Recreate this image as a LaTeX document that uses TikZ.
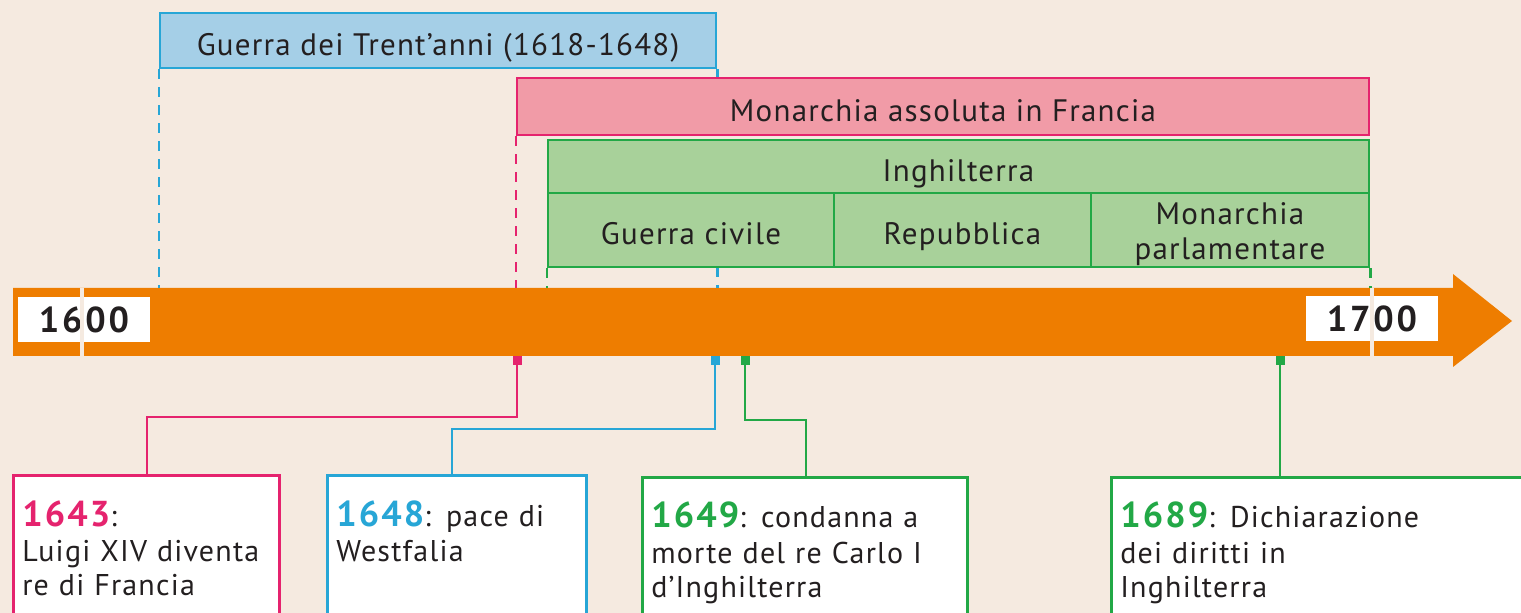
\documentclass[tikz,border=0pt]{standalone}
\usepackage{fontspec}
\setmainfont{PT Sans}
\usetikzlibrary{fit}
\definecolor{bgc}{RGB}{245,234,224}
\definecolor{barc}{RGB}{238,125,0}
\definecolor{txt}{RGB}{35,31,32}
\definecolor{blufill}{RGB}{165,207,231}
\definecolor{bluline}{RGB}{39,166,214}
\definecolor{pnkfill}{RGB}{241,155,167}
\definecolor{pnkline}{RGB}{229,35,110}
\definecolor{grnfill}{RGB}{168,209,154}
\definecolor{grnline}{RGB}{34,168,70}
\newcommand\yr[2]{\textcolor{#1}{\fontsize{18}{17.5}\selectfont\bfseries\addfontfeature{LetterSpace=6}#2}}
\tikzset{
span/.style={draw=#1line,fill=#1fill,line width=1.3pt,inner sep=0pt},
lbl/.style={inner sep=0pt,anchor=base,yshift=-7.5pt,align=center,text=txt,font=\fontsize{15.5}{17.5}\selectfont\addfontfeature{LetterSpace=4}},
limit/.style={draw=#1,line width=1.2pt,dash pattern=on 5pt off 4pt},
evbox/.style={draw=#1,fill=white,line width=1.3pt,anchor=north west,align=left,inner xsep=4.5pt,inner ysep=12.5pt,text depth=100pt,text=txt,font=\fontsize{15}{17.5}\selectfont\addfontfeature{LetterSpace=4}},
evmark/.style={fill=#1,inner sep=0pt,minimum size=4.5pt},
link/.style={draw=#1,line width=1.2pt},
yrlbl/.style={fill=white,inner sep=0pt,minimum width=66pt,minimum height=22.5pt,text=txt,font=\fontsize{18}{18}\selectfont\bfseries\addfontfeature{LetterSpace=8}}
}
\begin{document}
\begin{tikzpicture}[x=0.5pt,y=-0.5pt]
\useasboundingbox(0,0)rectangle(1521,613);\clip(0,0)rectangle(1521,613);
\fill[bgc](0,0)rectangle(1521,613);
% the time arrow
\fill[barc](13,288)--(1453,288)--(1453,274)--(1512,321)--(1453,367)--(1453,356)--(13,356)--cycle;
\coordinate(bartop)at(0,288);
\node[yrlbl](y1600)at(84,320){1600};\node[yrlbl](y1700)at(1372,319){1700};
\foreach\x in{82,1372}{\fill[bgc](\x-2,288)rectangle(\x+2,356);}
% periods
\node[span=blu,fit={(160,13)(716,68)}](thirty){};\node[lbl](thirtyt)at(thirty){Guerra dei Trent’anni (1618-1648)};
\draw[limit=bluline](thirty.south west)--(thirty.south west|-bartop);\draw[limit=bluline](thirty.south east)--(thirty.south east|-bartop);
\node[span=pnk,fit={(517,78)(1369,135)}](france){};\node[lbl](francet)at(france){Monarchia assoluta in Francia};
\draw[limit=pnkline](france.south west)--(france.south west|-bartop);
\node[span=grn,fit={(548,140)(1369,193)}](eng){};\node[lbl](engt)at(eng){Inghilterra};
\foreach\a/\b/\n in{548/834/civil,834/1091/rep,1091/1369/parl}{\node[span=grn,fit={(\a,193)(\b,267)}](\n){};}
\node[lbl](civilt)at(civil){Guerra civile};\node[lbl](rept)at(rep){Repubblica};
\node[lbl,anchor=center,yshift=5.5pt](parlt)at(parl){Monarchia\\parlamentare};
\draw[limit=grnline](civil.south west)--(civil.south west|-bartop);\draw[limit=grnline](parl.south east)--(parl.south east|-bartop);
% events
\foreach\x/\c/\n in{517/pnkline/mk1643,715/bluline/mk1648,745/grnline/mk1649,1280/grnline/mk1689}{\node[evmark=\c](\n)at(\x,360.5){};}
\node[evbox=pnkline,text width=124pt](e1643)at(12,474){\yr{pnkline}{1643}:\\Luigi XIV diventa\\re di Francia};
\node[evbox=bluline,text width=120.5pt](e1648)at(326,474){\yr{bluline}{1648}: pace di\\Westfalia};
\node[evbox=grnline,text width=153.5pt](e1649)at(641,476){\yr{grnline}{1649}: condanna a\\morte del re Carlo I\\d’Inghilterra};
\node[evbox=grnline,text width=208pt](e1689)at(1110,476){\yr{grnline}{1689}: Dichiarazione\\dei diritti in\\Inghilterra};
\coordinate(k1643)at(147,417);\coordinate(k1648)at(452,429);\coordinate(k1649)at(806,420);
\draw[link=pnkline](mk1643.south)|-(k1643)--(k1643|-e1643.north);
\draw[link=bluline](mk1648.south)|-(k1648)--(k1648|-e1648.north);
\draw[link=grnline](mk1649.south)|-(k1649)--(k1649|-e1649.north);
\draw[link=grnline](mk1689.south)--(mk1689.south|-e1689.north);
\end{tikzpicture}
\end{document}
